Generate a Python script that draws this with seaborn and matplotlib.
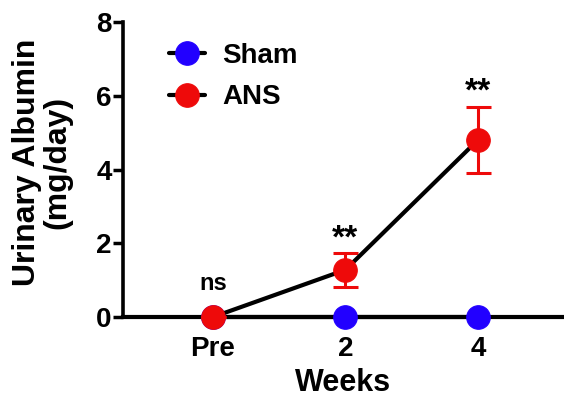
import matplotlib
matplotlib.use("Agg")
import matplotlib.pyplot as plt
import seaborn as sns
import numpy as np
import pandas as pd

weeks = ["Pre", "2", "4"]
sham_mean = [0.0, 0.0, 0.0]
ans_mean = [0.0, 1.28, 4.80]
ans_err = [0.0, 0.46, 0.90]
annotations = ["ns", "**", "**"]
annot_y = [0.92, 2.11, 6.1]

sns.set_theme(style="ticks")
plt.rcParams['font.family'] = ['Liberation Sans', 'DejaVu Sans']
plt.rcParams['font.weight'] = 'bold'
for k in ["text.color", "axes.labelcolor", "xtick.color", "ytick.color", "axes.edgecolor"]:
    plt.rcParams[k] = "black"

fig = plt.figure(figsize=(5.64, 3.98), dpi=100)
ax = fig.add_axes([0.218, 0.2035, 0.782, 0.7412])

pos = np.arange(len(weeks))
df_sham = pd.DataFrame({"x": pos, "y": sham_mean})
df_ans = pd.DataFrame({"x": pos, "y": ans_mean})

sns.lineplot(data=df_sham, x="x", y="y", ax=ax, color="black", lw=3,
             marker="o", markersize=17, markerfacecolor="#2200ff",
             markeredgecolor="#2200ff", clip_on=False, label="Sham", zorder=3)
ax.errorbar(pos, ans_mean, yerr=ans_err, fmt="none", ecolor="#ee0a0a",
            elinewidth=2.2, capsize=9, capthick=2.2, zorder=4, clip_on=False)
sns.lineplot(data=df_ans, x="x", y="y", ax=ax, color="black", lw=3,
             marker="o", markersize=17, markerfacecolor="#ee0a0a",
             markeredgecolor="#ee0a0a", clip_on=False, label="ANS", zorder=5)

for x, t, yy in zip(pos, annotations, annot_y):
    ax.text(x, yy, t, ha="center", va="center",
            fontsize=17 if t == "ns" else 24, fontweight="bold")

ax.set_xlim(-0.68, 2.65)
ax.set_ylim(0, 8)
ax.set_yticks([0, 2, 4, 6, 8])
ax.set_xticks(pos)
ax.set_xticklabels(weeks)
ax.tick_params(axis="x", length=0, pad=14, labelsize=20)
ax.tick_params(axis="y", length=7.2, width=2.5, labelsize=20, pad=0.8)
for lab in ax.get_xticklabels() + ax.get_yticklabels():
    lab.set_fontweight("bold")
sns.despine(ax=ax)
ax.spines["left"].set_linewidth(2.6)
ax.spines["bottom"].set_linewidth(3)
ax.set_xlabel("Weeks", fontsize=22, fontweight="bold", labelpad=4)
ax.set_ylabel("Urinary Albumin\n(mg/day)", fontsize=23, fontweight="bold",
              linespacing=1.0)
ax.yaxis.set_label_coords(-0.1156, 0.524)

leg = ax.legend(loc="upper left", bbox_to_anchor=(0.048, 1.013), frameon=False,
                prop={"size": 20, "weight": "bold"}, handlelength=1.3,
                labelspacing=0.55, handletextpad=0.6)

fig.savefig("out.png", dpi=100)
